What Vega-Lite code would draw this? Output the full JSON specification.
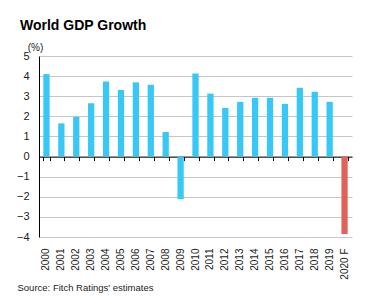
{
  "$schema": "https://vega.github.io/schema/vega-lite/v6.json",
  "autosize": "none",
  "width": 313,
  "height": 181,
  "padding": {"left": 39, "top": 56, "right": 15, "bottom": 70},
  "background": "white",
  "title": {
    "text": "World GDP Growth",
    "anchor": "start",
    "frame": "group",
    "dx": -19,
    "offset": 9,
    "font": "Liberation Sans",
    "fontSize": 14,
    "fontWeight": "bold",
    "color": "#000000"
  },
  "data": {
    "values": [
      {"year": "2000", "growth": 4.1, "kind": "Actual"},
      {"year": "2001", "growth": 1.65, "kind": "Actual"},
      {"year": "2002", "growth": 1.97, "kind": "Actual"},
      {"year": "2003", "growth": 2.65, "kind": "Actual"},
      {"year": "2004", "growth": 3.73, "kind": "Actual"},
      {"year": "2005", "growth": 3.31, "kind": "Actual"},
      {"year": "2006", "growth": 3.69, "kind": "Actual"},
      {"year": "2007", "growth": 3.57, "kind": "Actual"},
      {"year": "2008", "growth": 1.22, "kind": "Actual"},
      {"year": "2009", "growth": -2.12, "kind": "Actual"},
      {"year": "2010", "growth": 4.13, "kind": "Actual"},
      {"year": "2011", "growth": 3.13, "kind": "Actual"},
      {"year": "2012", "growth": 2.42, "kind": "Actual"},
      {"year": "2013", "growth": 2.72, "kind": "Actual"},
      {"year": "2014", "growth": 2.92, "kind": "Actual"},
      {"year": "2015", "growth": 2.92, "kind": "Actual"},
      {"year": "2016", "growth": 2.62, "kind": "Actual"},
      {"year": "2017", "growth": 3.42, "kind": "Actual"},
      {"year": "2018", "growth": 3.22, "kind": "Actual"},
      {"year": "2019", "growth": 2.72, "kind": "Actual"},
      {"year": "2020 F", "growth": -3.85, "kind": "Forecast"}
    ]
  },
  "encoding": {
    "y": {
      "field": "growth",
      "type": "quantitative",
      "scale": {"domain": [-4, 5], "nice": false, "zero": false},
      "axis": {
        "values": [-4, -3, -2, -1, 0, 1, 2, 3, 4, 5],
        "labelOverlap": false,
        "ticks": false,
        "domain": true,
        "domainColor": "#000000",
        "grid": true,
        "gridColor": "#c6c6c6",
        "labelPadding": 10,
        "labelFontSize": 11,
        "labelColor": "#222222",
        "title": "(%)",
        "titleAngle": 0,
        "titleAlign": "center",
        "titleBaseline": "alphabetic",
        "titleX": -4,
        "titleY": -6,
        "titleFontSize": 10,
        "titleFontWeight": "normal",
        "titleColor": "#222222"
      }
    }
  },
  "layer": [
    {
      "mark": {"type": "bar"},
      "encoding": {
        "x": {
          "field": "year",
          "type": "nominal",
          "sort": null,
          "scale": {"paddingInner": 0.58, "paddingOuter": 0.29},
          "axis": {
            "orient": "bottom",
            "domain": false,
            "ticks": false,
            "grid": false,
            "labelAngle": -90,
            "labelAlign": "right",
            "labelBaseline": "middle",
            "labelPadding": 11,
            "labelFontSize": 10,
            "labelColor": "#222222",
            "title": "Source: Fitch Ratings' estimates",
            "titleAnchor": "start",
            "titleAlign": "left",
            "titleBaseline": "alphabetic",
            "titleX": -22,
            "titleY": 53,
            "titleFontSize": 9.5,
            "titleFontWeight": "normal",
            "titleColor": "#222222"
          }
        },
        "color": {
          "field": "kind",
          "type": "nominal",
          "scale": {"domain": ["Actual", "Forecast"], "range": ["#37c8f6", "#e2625b"]},
          "legend": null
        }
      }
    },
    {
      "mark": {"type": "bar", "opacity": 0},
      "encoding": {
        "x": {
          "field": "year",
          "type": "nominal",
          "sort": null,
          "axis": {
            "orient": "bottom",
            "offset": -80.4,
            "labels": false,
            "title": null,
            "domain": true,
            "domainColor": "#000000",
            "ticks": true,
            "tickBand": "extent",
            "tickSize": 4,
            "tickColor": "#000000",
            "grid": false
          }
        }
      }
    }
  ],
  "resolve": {"axis": {"x": "independent"}},
  "config": {
    "font": "Liberation Sans",
    "view": {"stroke": null},
    "axis": {"labelFont": "Liberation Sans", "titleFont": "Liberation Sans"}
  }
}
